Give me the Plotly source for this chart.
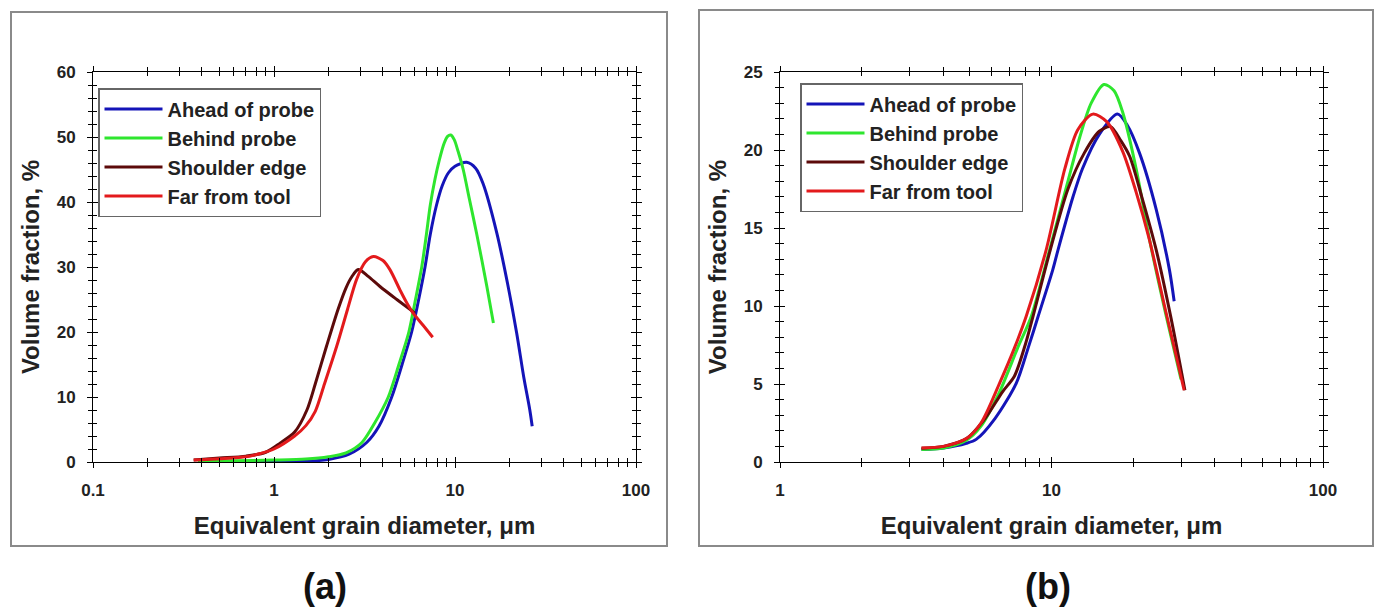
import plotly.graph_objects as go

# ---------------- data: panel (a) ----------------
a_ahead_x = [0.4, 0.7, 1.0, 1.5, 2.0, 2.6, 3.25, 3.8, 4.47, 5.1, 5.76, 6.3, 6.83, 7.3, 7.9, 8.5, 9.2, 10.0, 11.6, 13.0, 14.3, 17.0, 19.5, 21.9, 24.0, 25.9, 26.7]
a_ahead_y = [0.05, 0.05, 0.05, 0.1, 0.4, 1.2, 3.0, 5.5, 10.0, 15.0, 20.0, 25.0, 30.0, 35.0, 39.5, 42.5, 44.5, 45.5, 46.1, 45.2, 42.8, 35.3, 27.5, 19.9, 13.0, 8.0, 5.5]

a_behind_x = [0.38, 0.6, 1.0, 1.5, 2.0, 2.5, 3.06, 3.6, 4.28, 4.9, 5.56, 6.05, 6.55, 6.95, 7.3, 7.75, 8.2, 8.7, 9.1, 9.47, 9.9, 10.4, 11.1, 12.0, 13.2, 15.0, 16.3]
a_behind_y = [0.1, 0.2, 0.3, 0.45, 0.8, 1.4, 3.0, 6.0, 10.0, 15.0, 20.0, 25.0, 30.0, 35.0, 39.5, 43.5, 46.5, 49.0, 50.1, 50.3, 49.6, 47.8, 45.0, 40.5, 35.0, 27.0, 21.4]

a_shoulder_x = [0.36, 0.5, 0.7, 0.9, 1.08, 1.3, 1.52, 1.69, 1.95, 2.26, 2.5, 2.69, 2.92, 3.3, 3.85, 4.77, 6.01]
a_shoulder_y = [0.3, 0.6, 0.9, 1.5, 2.9, 4.6, 8.0, 12.0, 17.8, 23.5, 26.8, 28.5, 29.6, 28.6, 27.0, 25.0, 22.9]

a_far_x = [0.36, 0.5, 0.7, 0.84, 1.0, 1.3, 1.5, 1.69, 1.9, 2.22, 2.55, 2.86, 3.2, 3.54, 4.0, 4.37, 5.0, 5.41, 5.87, 6.68, 7.53]
a_far_y = [0.3, 0.5, 0.8, 1.3, 2.0, 4.0, 5.6, 7.8, 12.0, 17.8, 23.5, 28.1, 30.8, 31.6, 31.0, 29.6, 26.3, 24.5, 22.9, 21.0, 19.2]

# ---------------- data: panel (b) ----------------
b_ahead_x = [3.32, 4.0, 4.86, 5.28, 6.2, 7.42, 8.2, 8.93, 10.1, 10.57, 12.0, 13.0, 15.0, 17.5, 19.0, 21.1, 24.3, 27.2, 28.3]
b_ahead_y = [0.8, 0.9, 1.2, 1.45, 2.8, 5.06, 7.3, 9.34, 12.3, 13.6, 17.0, 18.8, 21.0, 22.3, 21.6, 19.8, 16.2, 12.3, 10.3]

b_behind_x = [3.32, 4.0, 4.86, 5.5, 6.44, 7.5, 8.43, 9.84, 11.5, 12.7, 14.0, 15.6, 17.0, 18.3, 20.5, 23.0, 26.5, 30.0]
b_behind_y = [0.8, 0.9, 1.4, 2.3, 4.5, 7.3, 9.34, 13.6, 18.0, 20.8, 23.0, 24.2, 23.8, 22.4, 18.8, 14.2, 9.3, 5.3]

b_shoulder_x = [3.32, 4.0, 4.86, 5.7, 6.6, 7.3, 8.0, 8.55, 9.9, 11.5, 13.2, 15.0, 16.5, 18.0, 19.4, 21.5, 24.3, 27.5, 31.0]
b_shoulder_y = [0.88, 1.0, 1.5, 2.8, 4.5, 5.5, 7.5, 9.34, 13.6, 17.5, 19.8, 21.2, 21.5, 20.6, 19.6, 17.0, 13.6, 9.3, 4.6]

b_far_x = [3.32, 4.0, 4.86, 5.5, 6.44, 7.3, 8.07, 9.56, 11.2, 12.5, 14.2, 16.0, 18.3, 20.5, 22.9, 26.4, 30.8]
b_far_y = [0.9, 1.0, 1.5, 2.5, 5.06, 7.3, 9.34, 13.6, 18.8, 21.3, 22.3, 21.8, 19.9, 17.3, 14.3, 9.6, 4.6]

series_names = ["Ahead of probe", "Behind probe", "Shoulder edge", "Far from tool"]
series_colors = ["#1414B8", "#2EE62E", "#5C0A0A", "#E31A1C"]

a_ticks = [0.1, 1, 10, 100]
a_ticktext = ["0.1", "1", "10", "100"]
b_ticks = [1, 10, 100]
b_ticktext = ["1", "10", "100"]
a_minor = [m * d for d in (0.1, 1, 10) for m in range(2, 10)]
b_minor = [m * d for d in (1, 10) for m in range(2, 10)]

FONT = "Liberation Sans, Arial, sans-serif"
tickfont = dict(family=FONT, size=17, color="#222222", weight="bold")
titlefont = dict(family=FONT, size=24, color="#222222", weight="bold")
legfont = dict(family=FONT, size=20, color="#222222", weight="bold")

fig = go.Figure()

a_sets = [(a_ahead_x, a_ahead_y), (a_behind_x, a_behind_y), (a_shoulder_x, a_shoulder_y), (a_far_x, a_far_y)]
b_sets = [(b_ahead_x, b_ahead_y), (b_behind_x, b_behind_y), (b_shoulder_x, b_shoulder_y), (b_far_x, b_far_y)]

for (xs, ys), name, col in zip(a_sets, series_names, series_colors):
    fig.add_trace(go.Scatter(x=xs, y=ys, mode="lines", name=name,
                             line=dict(color=col, width=3, shape="spline", smoothing=0.8),
                             xaxis="x", yaxis="y", legend="legend"))
for (xs, ys), name, col in zip(b_sets, series_names, series_colors):
    fig.add_trace(go.Scatter(x=xs, y=ys, mode="lines", name=name,
                             line=dict(color=col, width=3, shape="spline", smoothing=0.8),
                             xaxis="x2", yaxis="y2", legend="legend2"))

# dummy traces so overlay axes (for crossing ticks) are drawn
fig.add_trace(go.Scatter(x=[None], y=[None], xaxis="x3", yaxis="y3", showlegend=False, hoverinfo="skip"))
fig.add_trace(go.Scatter(x=[None], y=[None], xaxis="x4", yaxis="y4", showlegend=False, hoverinfo="skip"))

W, H = 1378, 612
dom_a = [93 / W, 636 / W]
dom_b = [780 / W, 1323 / W]
dom_y = [1 - 462 / H, 1 - 72 / H]


def main_x(rng, dom, anchor, tv, tt, minor):
    return dict(type="log", range=rng, autorange=False, domain=dom, anchor=anchor, automargin=False,
                showline=True, linecolor="black", linewidth=1, mirror="allticks",
                ticks="outside", ticklen=5, tickwidth=1, tickcolor="black",
                tickmode="array", tickvals=tv, ticktext=tt,
                minor=dict(tickmode="array", tickvals=minor, ticks="outside", ticklen=4, tickwidth=1, tickcolor="black"),
                showgrid=False, zeroline=False, tickfont=tickfont, ticklabelstandoff=8,
                title=dict(text="Equivalent grain diameter, \u03bcm", font=titlefont, standoff=17))


def main_y(rng, dom, anchor, dt, mdt):
    return dict(range=rng, autorange=False, domain=dom, anchor=anchor, automargin=False,
                showline=True, linecolor="black", linewidth=1, mirror="allticks",
                ticks="outside", ticklen=5, tickwidth=1, tickcolor="black",
                tick0=0, dtick=dt,
                minor=dict(tick0=0, dtick=mdt, ticks="outside", ticklen=4, tickwidth=1, tickcolor="black"),
                showgrid=False, zeroline=False, tickfont=tickfont, ticklabelstandoff=8,
                title=dict(text="Volume fraction, %", font=titlefont, standoff=10))


def over_x(rng, dom, over, anchor, tv, minor):
    return dict(type="log", range=rng, autorange=False, domain=dom, overlaying=over, anchor=anchor, automargin=False,
                showline=False, mirror="allticks", ticks="inside", ticklen=5, tickwidth=1, tickcolor="black",
                tickmode="array", tickvals=tv, showticklabels=False,
                minor=dict(tickmode="array", tickvals=minor, ticks="inside", ticklen=4, tickwidth=1, tickcolor="black"),
                showgrid=False, zeroline=False)


def over_y(rng, dom, over, anchor, dt, mdt):
    return dict(range=rng, autorange=False, domain=dom, overlaying=over, anchor=anchor, automargin=False,
                showline=False, mirror="allticks", ticks="inside", ticklen=5, tickwidth=1, tickcolor="black",
                tick0=0, dtick=dt, showticklabels=False,
                minor=dict(tick0=0, dtick=mdt, ticks="inside", ticklen=4, tickwidth=1, tickcolor="black"),
                showgrid=False, zeroline=False)


leg_common = dict(xanchor="left", yanchor="top", bgcolor="white", bordercolor="#666666",
                  borderwidth=1.5, font=legfont, tracegroupgap=0, itemwidth=58)

fig.update_layout(
    width=W, height=H, autosize=False,
    margin=dict(l=0, r=0, t=0, b=0, autoexpand=False),
    paper_bgcolor="white", plot_bgcolor="white",
    xaxis=main_x([-1, 2], dom_a, "y", a_ticks, a_ticktext, a_minor),
    yaxis=main_y([0, 60], dom_y, "x", 10, 2),
    xaxis2=main_x([0, 2], dom_b, "y2", b_ticks, b_ticktext, b_minor),
    yaxis2=main_y([0, 25], dom_y, "x2", 5, 1),
    xaxis3=over_x([-1, 2], dom_a, "x", "y3", a_ticks, a_minor),
    yaxis3=over_y([0, 60], dom_y, "y", "x3", 10, 2),
    xaxis4=over_x([0, 2], dom_b, "x2", "y4", b_ticks, b_minor),
    yaxis4=over_y([0, 25], dom_y, "y2", "x4", 5, 1),
    legend=dict(x=98 / W, y=1 - 88 / H, **leg_common),
    legend2=dict(x=800 / W, y=1 - 83 / H, **leg_common),
    showlegend=True,
    shapes=[
        dict(type="rect", xref="paper", yref="paper", x0=11 / W, x1=667 / W, y0=1 - 546 / H, y1=1 - 12 / H,
             line=dict(color="#8a8a8a", width=2), fillcolor="rgba(0,0,0,0)", layer="below"),
        dict(type="rect", xref="paper", yref="paper", x0=699 / W, x1=1373 / W, y0=1 - 546 / H, y1=1 - 10 / H,
             line=dict(color="#8a8a8a", width=2), fillcolor="rgba(0,0,0,0)", layer="below"),
    ],
    annotations=[
        dict(text="(a)", x=325 / W, y=1 - 586 / H, xref="paper", yref="paper", showarrow=False,
             xanchor="center", yanchor="middle",
             font=dict(family=FONT, size=36, color="#111111", weight="bold")),
        dict(text="(b)", x=1048 / W, y=1 - 586 / H, xref="paper", yref="paper", showarrow=False,
             xanchor="center", yanchor="middle",
             font=dict(family=FONT, size=36, color="#111111", weight="bold")),
    ],
)

fig.write_html("out.html", config={"displayModeBar": False},
               post_script="document.body.style.margin='0';")
